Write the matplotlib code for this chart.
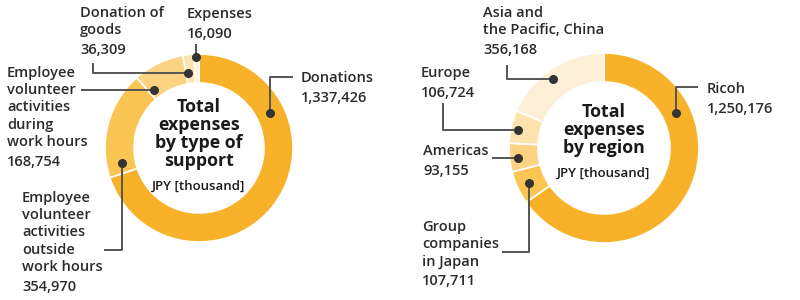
import matplotlib
matplotlib.use('Agg')
import matplotlib.pyplot as plt

# data
type_labels = [['Donations'],
               ['Employee', 'volunteer', 'activities', 'outside', 'work hours'],
               ['Employee', 'volunteer', 'activities', 'during', 'work hours'],
               ['Donation of', 'goods'],
               ['Expenses']]
type_values = [1337426, 354970, 168754, 36309, 16090]
type_colors = ['#F8B22A', '#FAC553', '#FBD383', '#FDE3AE', '#FEEED2']

region_labels = [['Ricoh'],
                 ['Group', 'companies', 'in Japan'],
                 ['Americas'],
                 ['Europe'],
                 ['Asia and', 'the Pacific, China']]
region_values = [1250176, 107711, 93155, 106724, 356168]
region_colors = ['#F8B22A', '#FAC553', '#FBD383', '#FDE3AE', '#FEF0D8']

# layout (pixel coords, y down): leader path starting at the dot, text x, first text line y
type_leaders = [
    ([(270, 113), (270, 77), (293, 77)], 301, 78),
    ([(122, 163), (122, 250), (104, 250)], 22, 198),
    ([(154, 90), (81, 90)], 7, 73),
    ([(188, 73), (93, 73), (93, 63)], 80, 13),
    ([(196, 57), (196, 44)], 187, 14),
]
region_leaders = [
    ([(676, 113), (676, 87), (698, 87)], 707, 89),
    ([(529, 183), (529, 252), (502, 252)], 422, 227),
    ([(518, 158), (492, 158)], 423, 151),
    ([(518, 130), (443, 130), (443, 103)], 421, 73),
    ([(553, 79), (507, 79), (507, 65)], 483, 13),
]

FONT = 'Open Sans'
TXT = '#2b2b2b'

fig = plt.figure(figsize=(8, 3), dpi=100)
ax = fig.add_axes([0, 0, 1, 1])


def donut(center, radius, values, colors, leaders, labels, title_lines, title_y):
    # y axis is inverted, so counterclockwise in data is clockwise on screen
    ax.pie(values, colors=colors, center=center, radius=radius, startangle=-90,
           counterclock=True, frame=True,
           wedgeprops=dict(width=29, edgecolor='white', linewidth=1.2))
    for (path, tx, ty), lines, v in zip(leaders, labels, values):
        xs = [p[0] for p in path]
        ys = [p[1] for p in path]
        ax.plot(xs, ys, color='#555555', lw=1.4, solid_capstyle='butt', zorder=3)
        ax.plot(xs[0], ys[0], 'o', color='#333333', ms=5.5, zorder=4)
        for i, line in enumerate(lines):
            ax.text(tx, ty + i * 17.2, line, family=FONT, weight='semibold', fontsize=10.5,
                    color=TXT, va='center', ha='left')
        ax.text(tx, ty + (len(lines) - 1) * 17.2 + 20, f'{v:,}', family=FONT, weight='semibold',
                fontsize=10.5, color=TXT, va='center', ha='left')
    for i, line in enumerate(title_lines):
        ax.text(center[0], title_y + i * 18, line, family=FONT, weight='bold', fontsize=12.8,
                color='#1a1a1a', va='center', ha='center')
    ax.text(center[0], title_y + (len(title_lines) - 1) * 18 + 25, 'JPY [thousand]', family=FONT,
            weight='semibold', fontsize=9.5, color='#1a1a1a', va='center', ha='center')


donut((199, 148), 94, type_values, type_colors, type_leaders, type_labels,
      ['Total', 'expenses', 'by type of', 'support'], 107)
donut((604, 148), 95, region_values, region_colors, region_leaders, region_labels,
      ['Total', 'expenses', 'by region'], 112)

ax.set_xlim(0, 800)
ax.set_ylim(300, 0)
ax.set_aspect('equal')
ax.axis('off')

fig.savefig('out.png', dpi=100, facecolor='white')
